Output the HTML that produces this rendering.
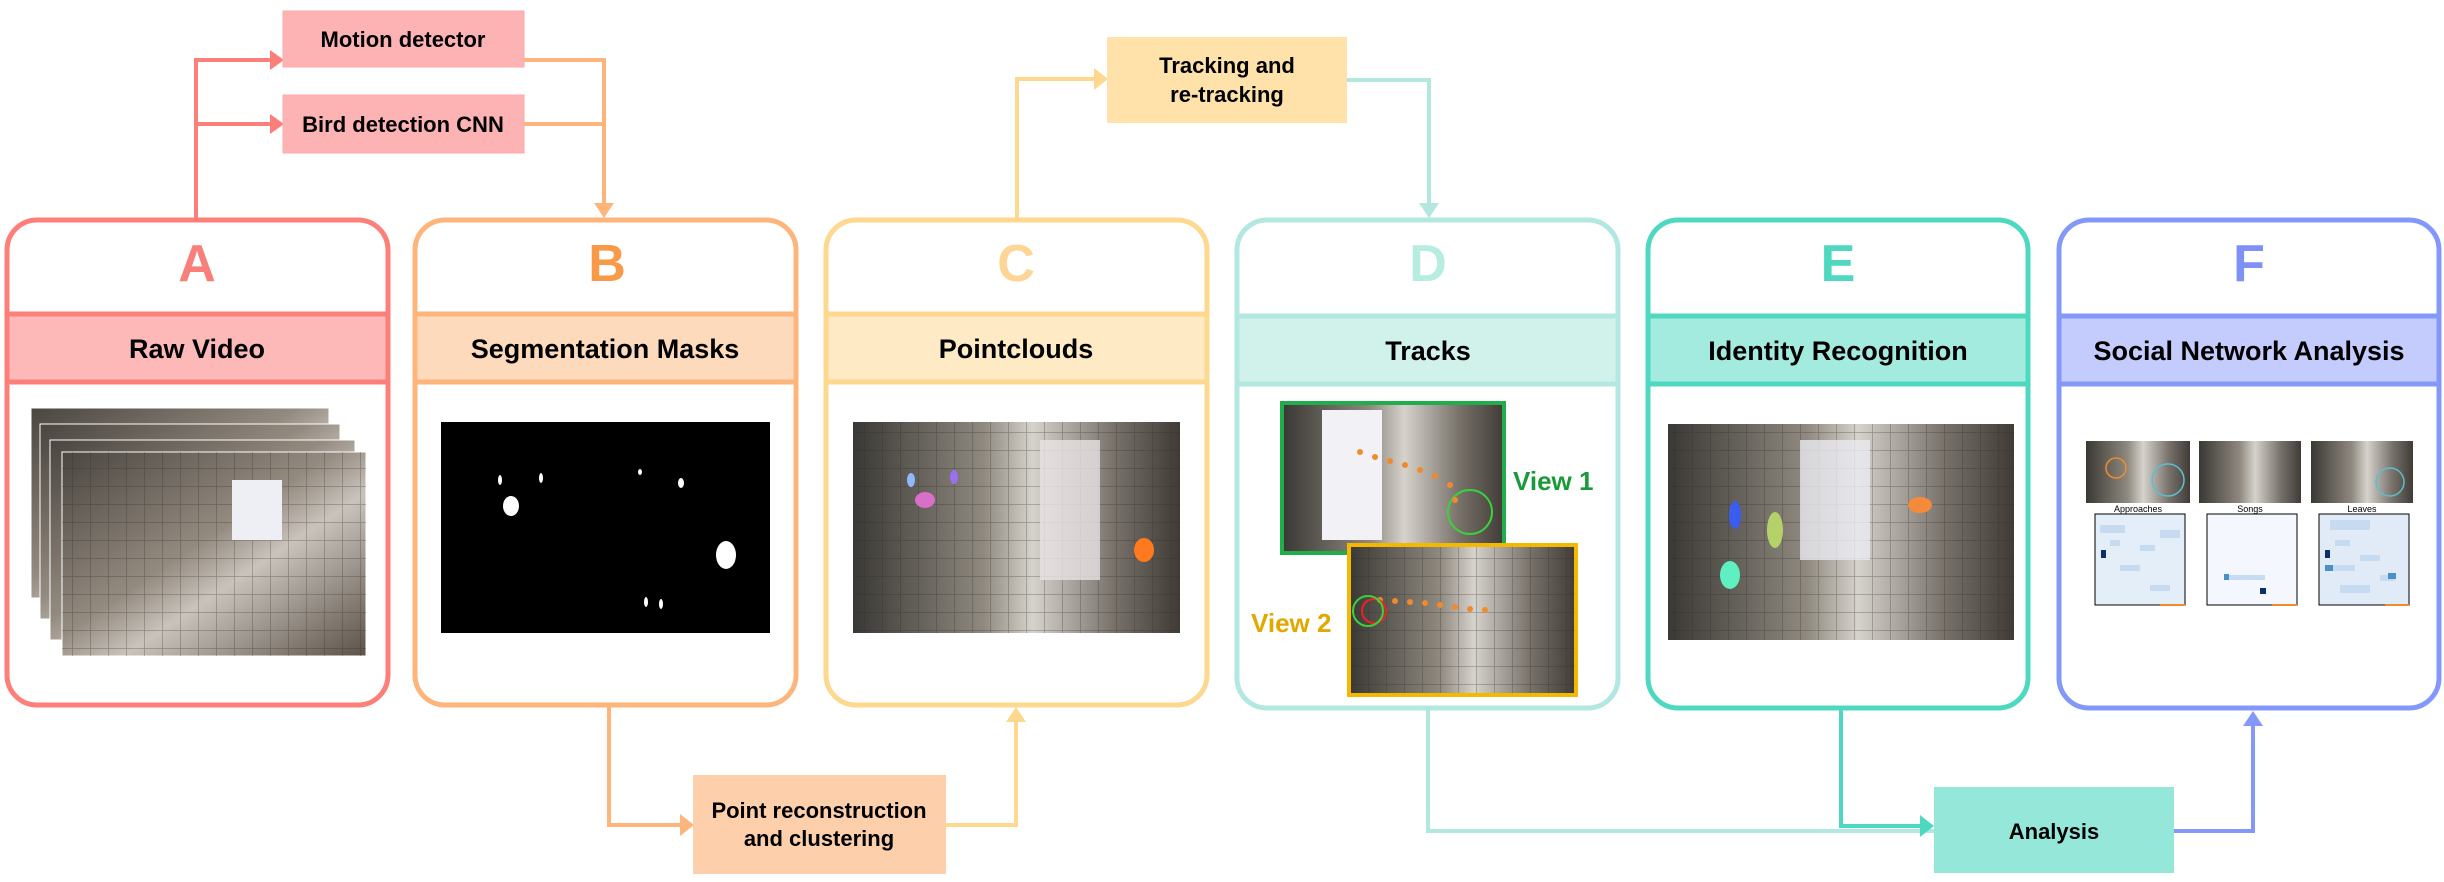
<!DOCTYPE html>
<html><head><meta charset="utf-8"><style>
html,body{margin:0;padding:0;background:#fff;}
svg{display:block;font-family:"Liberation Sans",sans-serif;}
</style></head><body>
<svg width="2444" height="882" viewBox="0 0 2444 882" xmlns="http://www.w3.org/2000/svg">
<defs>
<linearGradient id="ph" x1="0" y1="0" x2="1" y2="1">
<stop offset="0" stop-color="#4a4540"/><stop offset="0.45" stop-color="#948b80"/><stop offset="0.6" stop-color="#c9c3bc"/><stop offset="1" stop-color="#5b5248"/></linearGradient>
<linearGradient id="ph2" x1="0" y1="0" x2="1" y2="0">
<stop offset="0" stop-color="#3a3835"/><stop offset="0.4" stop-color="#8f897f"/><stop offset="0.55" stop-color="#d6d2cc"/><stop offset="0.8" stop-color="#77716a"/><stop offset="1" stop-color="#403b36"/></linearGradient>
<pattern id="grid" width="18" height="18" patternUnits="userSpaceOnUse"><path d="M0 0 H18 M0 0 V18" stroke="#2e2a26" stroke-width="1.5" opacity="0.35" fill="none"/></pattern>
</defs>

<g fill="none" stroke-width="4">
<path d="M196 218 V60 H270" stroke="#fd7f7a"/>
<path d="M196 124 H270" stroke="#fd7f7a"/>
<path d="M524 60 H604 V205" stroke="#fdb57b"/>
<path d="M524 124 H604" stroke="#fdb57b"/>
<path d="M1017 218 V79 H1095" stroke="#fed88e"/>
<path d="M1347 80 H1429 V205" stroke="#b2e8df"/>
<path d="M609 705 V825 H681" stroke="#fdb57b"/>
<path d="M946 825 H1016 V720" stroke="#fed88e"/>
<path d="M1428 710 V831 H1934" stroke="#b2e8df"/>
<path d="M1841 710 V826 H1922" stroke="#4fd8c0"/>
<path d="M2174 831 H2253 V724" stroke="#8498fa"/>
</g>
<polygon points="270,50 284,60 270,70" fill="#fd7f7a"/>
<polygon points="270,114 284,124 270,134" fill="#fd7f7a"/>
<polygon points="594,203 614,203 604,218" fill="#fdb57b"/>
<polygon points="1094,68 1108,79 1094,90" fill="#fed88e"/>
<polygon points="1419,203 1439,203 1429,218" fill="#b2e8df"/>
<polygon points="680,814 694,825 680,836" fill="#fdb57b"/>
<polygon points="1006,722 1026,722 1016,707" fill="#fed88e"/>
<polygon points="1920,815 1934,826 1920,837" fill="#4fd8c0"/>
<polygon points="2243,726 2263,726 2253,711" fill="#8498fa"/>

<rect x="283" y="11" width="241" height="56" fill="#fdb3b3" stroke="#fdaaaa" stroke-width="1"/>
<text x="403" y="47" font-size="22" font-weight="bold" text-anchor="middle">Motion detector</text>
<rect x="283" y="95" width="241" height="58" fill="#fdb3b3" stroke="#fdaaaa" stroke-width="1"/>
<text x="403" y="132" font-size="22" font-weight="bold" text-anchor="middle">Bird detection CNN</text>
<rect x="1107" y="37" width="240" height="86" fill="#fee2aa"/>
<text x="1227" y="73" font-size="22" font-weight="bold" text-anchor="middle">Tracking and</text>
<text x="1227" y="102" font-size="22" font-weight="bold" text-anchor="middle">re-tracking</text>
<rect x="693" y="775" width="253" height="99" fill="#fdd0ab"/>
<text x="819" y="818" font-size="22" font-weight="bold" text-anchor="middle">Point reconstruction</text>
<text x="819" y="846" font-size="22" font-weight="bold" text-anchor="middle">and clustering</text>
<rect x="1934" y="787" width="240" height="86" fill="#94e7d9"/>
<text x="2054" y="839" font-size="22" font-weight="bold" text-anchor="middle">Analysis</text>

<g stroke-width="5">
<rect x="7" y="220" width="381" height="485" rx="30" fill="#fff" stroke="#fd7f7a"/>
<rect x="7" y="314" width="381" height="68" fill="#fdb8b8" stroke="#fd7f7a"/>
<rect x="415" y="220" width="381" height="485" rx="30" fill="#fff" stroke="#fdb57b"/>
<rect x="415" y="314" width="381" height="68" fill="#fddabc" stroke="#fdb57b"/>
<rect x="826" y="220" width="381" height="485" rx="30" fill="#fff" stroke="#fed88e"/>
<rect x="826" y="314" width="381" height="68" fill="#feeac4" stroke="#fed88e"/>
<rect x="1237" y="220" width="381" height="488" rx="30" fill="#fff" stroke="#b2e8df"/>
<rect x="1237" y="316" width="381" height="68" fill="#d0f2ea" stroke="#b2e8df"/>
<rect x="1648" y="220" width="380" height="488" rx="30" fill="#fff" stroke="#4fd8c0"/>
<rect x="1648" y="316" width="380" height="68" fill="#a4ebdf" stroke="#4fd8c0"/>
<rect x="2059" y="220" width="380" height="488" rx="30" fill="#fff" stroke="#8498fa"/>
<rect x="2059" y="316" width="380" height="68" fill="#c3ccfc" stroke="#8498fa"/>
</g>
<g font-size="52" font-weight="bold" text-anchor="middle">
<text x="197" y="281" fill="#f97f7a">A</text>
<text x="607" y="281" fill="#f99a48">B</text>
<text x="1016" y="281" fill="#fed596">C</text>
<text x="1428" y="281" fill="#b7ece0">D</text>
<text x="1838" y="281" fill="#4fd8c0">E</text>
<text x="2249" y="281" fill="#7f90f7">F</text>
</g>
<g font-size="27" font-weight="bold" text-anchor="middle">
<text x="197" y="358">Raw Video</text>
<text x="605" y="358">Segmentation Masks</text>
<text x="1016" y="358">Pointclouds</text>
<text x="1428" y="360">Tracks</text>
<text x="1838" y="360">Identity Recognition</text>
<text x="2249" y="360">Social Network Analysis</text>
</g>

<g stroke="#fff" stroke-width="1">
<rect x="31" y="408" width="298" height="190" fill="url(#ph)"/>
<rect x="40" y="424" width="300" height="195" fill="url(#ph)"/>
<rect x="50" y="440" width="305" height="200" fill="url(#ph)"/>
<rect x="62" y="452" width="304" height="204" fill="url(#ph)"/>
</g>
<rect x="62" y="452" width="304" height="204" fill="url(#grid)"/>
<rect x="232" y="480" width="50" height="60" fill="#eeeef5"/>
<rect x="441" y="422" width="329" height="211" fill="#000"/>
<g fill="#fff">
<ellipse cx="511" cy="506" rx="8" ry="10"/><ellipse cx="726" cy="555" rx="10" ry="14"/>
<ellipse cx="541" cy="478" rx="2" ry="5"/><ellipse cx="500" cy="480" rx="2" ry="5"/>
<ellipse cx="681" cy="483" rx="3" ry="5"/><ellipse cx="640" cy="472" rx="2" ry="3"/>
<ellipse cx="646" cy="602" rx="2" ry="5"/><ellipse cx="661" cy="604" rx="2" ry="5"/>
</g>
<rect x="853" y="422" width="327" height="211" fill="url(#ph2)"/>
<rect x="853" y="422" width="327" height="211" fill="url(#grid)"/>
<rect x="1040" y="440" width="60" height="140" fill="#e8e4e4" opacity="0.8"/>
<ellipse cx="925" cy="500" rx="10" ry="8" fill="#d86fc8"/>
<ellipse cx="1144" cy="550" rx="10" ry="12" fill="#ff7a1e"/>
<ellipse cx="954" cy="477" rx="4" ry="7" fill="#9b6ff0"/>
<ellipse cx="911" cy="480" rx="4" ry="7" fill="#8fb8ff"/>
<rect x="1282" y="403" width="222" height="150" fill="url(#ph2)" stroke="#1fae4a" stroke-width="4"/>
<rect x="1322" y="410" width="60" height="130" fill="#f2f2f6"/>
<circle cx="1470" cy="512" r="22" fill="none" stroke="#3bd13b" stroke-width="2"/>
<rect x="1349" y="545" width="227" height="150" fill="url(#ph2)" stroke="#f5b800" stroke-width="4"/>
<rect x="1351" y="547" width="223" height="146" fill="url(#grid)"/>
<g fill="#f08a2a"><circle cx="1380" cy="600" r="3"/><circle cx="1395" cy="601" r="3"/><circle cx="1410" cy="602" r="3"/><circle cx="1425" cy="603" r="3"/><circle cx="1440" cy="605" r="3"/><circle cx="1455" cy="607" r="3"/><circle cx="1470" cy="609" r="3"/><circle cx="1485" cy="610" r="3"/>
<circle cx="1360" cy="452" r="3"/><circle cx="1375" cy="457" r="3"/><circle cx="1390" cy="461" r="3"/><circle cx="1405" cy="465" r="3"/><circle cx="1420" cy="470" r="3"/><circle cx="1435" cy="476" r="3"/><circle cx="1450" cy="485" r="3"/><circle cx="1455" cy="500" r="3"/></g>
<circle cx="1374" cy="611" r="12" fill="none" stroke="#e22" stroke-width="2"/>
<circle cx="1368" cy="611" r="15" fill="none" stroke="#3bd13b" stroke-width="2"/>
<text x="1513" y="490" font-size="26" font-weight="bold" fill="#1a9b3a">View 1</text>
<text x="1251" y="632" font-size="26" font-weight="bold" fill="#e2a800">View 2</text>
<rect x="1668" y="424" width="346" height="216" fill="url(#ph2)"/>
<rect x="1668" y="424" width="346" height="216" fill="url(#grid)"/>
<rect x="1800" y="440" width="70" height="120" fill="#eaeaf0" opacity="0.8"/>
<ellipse cx="1735" cy="515" rx="6" ry="14" fill="#3b5cf0"/>
<ellipse cx="1775" cy="530" rx="8" ry="18" fill="#b5d26a"/>
<ellipse cx="1730" cy="575" rx="10" ry="14" fill="#5ef0c0"/>
<ellipse cx="1920" cy="505" rx="12" ry="8" fill="#f58a3a"/>
<rect x="2086" y="441" width="104" height="62" fill="url(#ph2)"/>
<rect x="2199" y="441" width="102" height="62" fill="url(#ph2)"/>
<rect x="2311" y="441" width="102" height="62" fill="url(#ph2)"/>
<circle cx="2168" cy="480" r="16" fill="none" stroke="#5bc0d0" stroke-width="1.5"/>
<circle cx="2116" cy="468" r="10" fill="none" stroke="#f08a2a" stroke-width="1.5"/>
<circle cx="2390" cy="482" r="14" fill="none" stroke="#5bc0d0" stroke-width="1.5"/>
<g font-size="9" text-anchor="middle"><text x="2138" y="512">Approaches</text><text x="2250" y="512">Songs</text><text x="2362" y="512">Leaves</text></g>
<g stroke="#000" stroke-width="1">
<rect x="2095" y="514" width="90" height="91" fill="#e4eef9"/>
<rect x="2207" y="514" width="90" height="91" fill="#f4f8fe"/>
<rect x="2319" y="514" width="90" height="91" fill="#e0ebf7"/>
</g>
<g fill="#c6dbef">
<rect x="2110" y="540" width="10" height="6"/><rect x="2140" y="545" width="15" height="6"/><rect x="2120" y="565" width="20" height="6"/><rect x="2150" y="585" width="20" height="6"/>
<rect x="2100" y="525" width="25" height="8"/><rect x="2160" y="530" width="20" height="8"/>
<rect x="2335" y="540" width="15" height="6"/><rect x="2360" y="555" width="20" height="6"/><rect x="2325" y="565" width="30" height="6"/><rect x="2380" y="575" width="15" height="6"/>
<rect x="2330" y="520" width="40" height="10"/><rect x="2340" y="585" width="30" height="8"/>
<rect x="2225" y="575" width="40" height="5"/>
</g>
<g fill="#08306b"><rect x="2101" y="550" width="5" height="8"/><rect x="2325" y="550" width="5" height="8"/><rect x="2260" y="588" width="6" height="6"/></g>
<g fill="#4a90c8"><rect x="2224" y="574" width="5" height="6"/><rect x="2388" y="573" width="8" height="6"/><rect x="2325" y="565" width="8" height="6"/></g>
<g stroke="#f08a2a" stroke-width="2"><path d="M2160 605 H2185"/><path d="M2272 605 H2297"/><path d="M2385 605 H2409"/></g>
</svg>
</body></html>
